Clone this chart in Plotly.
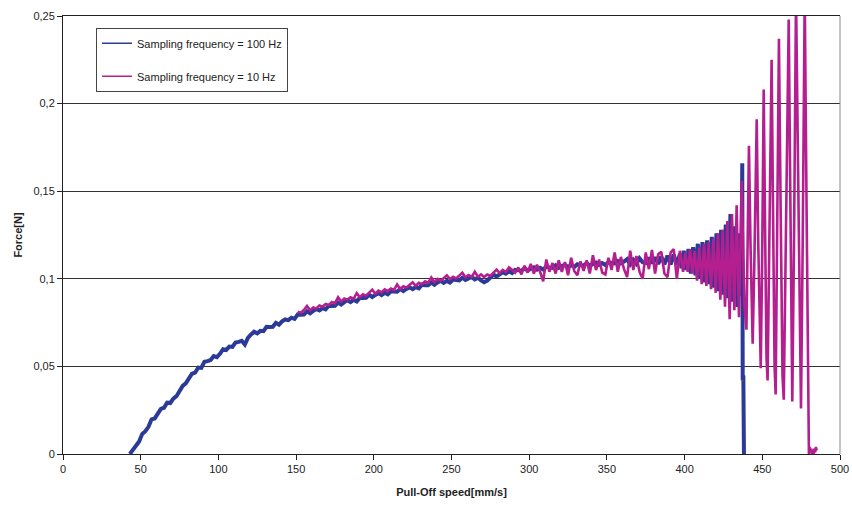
import plotly.graph_objects as go

# ---------------- data ----------------
blue_x = [
    43, 45, 47, 49, 51, 53, 55, 57, 59, 61,
    63, 65, 67, 69, 71, 73, 75, 77, 79, 81,
    83, 85, 87, 89, 91, 93, 95, 97, 99, 101,
    103, 105, 107, 109, 111, 113, 115, 117, 119, 121,
    123, 125, 127, 129, 131, 133, 135, 137, 139, 141,
    143, 145, 147, 149, 151, 153, 155, 157, 159, 161,
    163, 165, 167, 169, 171, 173, 175, 177, 179, 181,
    183, 185, 187, 189, 191, 193, 195, 197, 199, 201,
    203, 205, 207, 209, 211, 213, 215, 217, 219, 221,
    223, 225, 227, 229, 231, 233, 235, 237, 239, 241,
    243, 245, 247, 249, 251, 253, 255, 257, 259, 261,
    263, 265, 267, 269, 271, 273, 275, 277, 279, 281,
    283, 285, 287, 289, 291, 293, 295, 297, 299, 301,
    303, 305, 307, 309, 311, 313, 315, 317, 319, 321,
    323, 325, 327, 329, 331, 333, 335, 337, 339, 341,
    343, 345, 347, 349, 351, 353, 355, 357, 359, 361,
    363, 365, 367, 369, 371, 373, 375, 377, 379, 381,
    383, 385, 387, 389, 391, 393, 395, 397,
    398, 399.5, 401, 402.5, 404, 405.5, 407, 408.5, 410, 411.5,
    413, 414.5, 416, 417.5, 419, 420.5, 422, 423.5, 425, 426.5,
    428, 429.5, 431, 432.5, 434, 435.5,
    436.5, 437.1, 437.4, 437.6, 437.8, 438.2,
]
blue_y = [
    0.0000, 0.0025, 0.0055, 0.0072, 0.0115, 0.0130, 0.0155, 0.0198, 0.0203, 0.0232,
    0.0258, 0.0264, 0.0293, 0.0291, 0.0316, 0.0330, 0.0356, 0.0389, 0.0403, 0.0432,
    0.0458, 0.0464, 0.0493, 0.0491, 0.0526, 0.0530, 0.0536, 0.0559, 0.0553, 0.0572,
    0.0598, 0.0594, 0.0613, 0.0611, 0.0636, 0.0640, 0.0646, 0.0625, 0.0663, 0.0682,
    0.0698, 0.0689, 0.0703, 0.0701, 0.0726, 0.0725, 0.0726, 0.0749, 0.0738, 0.0757,
    0.0768, 0.0764, 0.0778, 0.0771, 0.0796, 0.0795, 0.0796, 0.0814, 0.0803, 0.0817,
    0.0828, 0.0819, 0.0833, 0.0826, 0.0846, 0.0845, 0.0846, 0.0864, 0.0853, 0.0867,
    0.0878, 0.0867, 0.0880, 0.0871, 0.0891, 0.0890, 0.0891, 0.0909, 0.0896, 0.0908,
    0.0918, 0.0907, 0.0920, 0.0911, 0.0929, 0.0927, 0.0926, 0.0942, 0.0930, 0.0942,
    0.0951, 0.0941, 0.0953, 0.0946, 0.0966, 0.0963, 0.0963, 0.0979, 0.0966, 0.0979,
    0.0988, 0.0977, 0.0988, 0.0979, 0.0996, 0.0993, 0.0991, 0.1006, 0.0993, 0.1002,
    0.1010, 0.0997, 0.1006, 0.0991, 0.0980, 0.0990, 0.1004, 0.1024, 0.1013, 0.1027,
    0.1038, 0.1029, 0.1043, 0.1033, 0.1051, 0.1048, 0.1046, 0.1061, 0.1047, 0.1057,
    0.1065, 0.1052, 0.1063, 0.1053, 0.1069, 0.1065, 0.1062, 0.1077, 0.1063, 0.1073,
    0.1080, 0.1067, 0.1078, 0.1067, 0.1083, 0.1078, 0.1076, 0.1090, 0.1075, 0.1085,
    0.1093, 0.1080, 0.1090, 0.1079, 0.1096, 0.1091, 0.1088, 0.1102, 0.1088, 0.1098,
    0.1112, 0.1083, 0.1108, 0.1086, 0.1117, 0.1095, 0.1090, 0.1120, 0.1088, 0.1122,
    0.1085, 0.1128, 0.1083, 0.1132, 0.1082, 0.1138, 0.1080, 0.1142,
    0.106, 0.116, 0.105, 0.117, 0.103, 0.118, 0.102, 0.120, 0.100, 0.121,
    0.098, 0.122, 0.097, 0.124, 0.095, 0.126, 0.093, 0.128, 0.091, 0.131,
    0.089, 0.137, 0.087, 0.130, 0.084, 0.126,
    0.090, 0.166, 0.042, 0.158, 0.045, 0.000,
]

mag_x = [
    151, 153, 155, 157, 159, 161, 163, 165, 167, 169,
    171, 173, 175, 177, 179, 181, 183, 185, 187, 189,
    191, 193, 195, 197, 199, 201, 203, 205, 207, 209,
    211, 213, 215, 217, 219, 221, 223, 225, 227, 229,
    231, 233, 235, 237, 239, 241, 243, 245, 247, 249,
    251, 253, 255, 257, 259, 261, 263, 265, 267, 269,
    271, 273, 275, 277, 279, 281, 283, 285, 287, 289,
    291, 293, 295, 297, 299, 301, 303, 305, 307, 309,
    311, 313, 315, 317, 319, 321, 323, 325, 327, 329,
    331, 333, 335, 337, 339, 341, 343, 345, 347, 349,
    351, 353, 355, 357, 359, 361, 363, 365, 367, 369,
    371, 373, 375, 377, 379, 381, 383, 385, 387, 389,
    391, 393, 395, 397, 399,
    400.5, 402, 403.5, 405, 406.5, 408, 409.5, 411, 412.5, 414,
    415.5, 417, 418.5, 420, 421.5, 423, 424.5, 426, 427.5, 429,
    430.5, 432, 433.5, 435,
    435.9, 436.7, 437.6, 438.5, 439.8, 440.6, 441.4, 442.4, 443.2, 443.8,
    444.8, 446.4, 447.4, 448.3, 449.0, 449.9, 450.9, 451.9, 452.7, 453.4,
    454.5, 456.0, 457.0, 457.9, 458.6, 459.5, 460.7, 461.8, 463.0, 463.8,
    465.0, 467.0, 468.0, 468.8, 469.3, 470.5, 471.7, 473.2, 474.3, 474.9,
    476.0, 477.3, 478.5, 479.3, 479.6, 480.0,
    480.5, 481, 481.5, 482, 482.5, 483, 483.5, 484, 484.5, 485,
]
mag_y = [
    0.0812, 0.0805, 0.0822, 0.0845, 0.0820, 0.0836, 0.0830, 0.0848, 0.0841, 0.0856,
    0.0850, 0.0867, 0.0860, 0.0895, 0.0870, 0.0887, 0.0880, 0.0894, 0.0886, 0.0918,
    0.0895, 0.0912, 0.0904, 0.0921, 0.0938, 0.0915, 0.0932, 0.0922, 0.0940, 0.0930,
    0.0945, 0.0936, 0.0968, 0.0942, 0.0958, 0.0950, 0.0965, 0.0980, 0.0960, 0.0977,
    0.0969, 0.0985, 0.0976, 0.1008, 0.0982, 0.0999, 0.0988, 0.1002, 0.1020, 0.0998,
    0.1012, 0.1002, 0.1017, 0.1035, 0.1009, 0.1022, 0.1011, 0.1040, 0.1012, 0.1025,
    0.1010, 0.1024, 0.1016, 0.1035, 0.1052, 0.1032, 0.1051, 0.1039, 0.1065, 0.1052,
    0.1035, 0.1065, 0.1025, 0.1075, 0.1035, 0.1085, 0.1030, 0.1080, 0.1040, 0.0985,
    0.1110, 0.1040, 0.1090, 0.1030, 0.1105, 0.1040, 0.1095, 0.1020, 0.1120, 0.1045,
    0.1020, 0.1100, 0.1045, 0.1105, 0.1030, 0.1135, 0.1050, 0.1110, 0.1035, 0.1025,
    0.1120, 0.1050, 0.1150, 0.1040, 0.1125, 0.1055, 0.1010, 0.1160, 0.1050, 0.1130,
    0.1040, 0.1000, 0.1150, 0.1055, 0.1165, 0.1030, 0.1140, 0.1155, 0.1030, 0.1010,
    0.1150, 0.1170, 0.1000, 0.1160, 0.1040,
    0.115, 0.104, 0.117, 0.103, 0.116, 0.099, 0.118, 0.097, 0.120, 0.096,
    0.121, 0.094, 0.123, 0.092, 0.126, 0.088, 0.128, 0.084, 0.133, 0.077,
    0.137, 0.082, 0.142, 0.078,
    0.115, 0.156, 0.120, 0.085, 0.071, 0.120, 0.176, 0.120, 0.075, 0.063,
    0.105, 0.191, 0.120, 0.065, 0.049, 0.110, 0.208, 0.120, 0.055, 0.042,
    0.120, 0.225, 0.130, 0.050, 0.034, 0.110, 0.237, 0.140, 0.045, 0.031,
    0.120, 0.248, 0.150, 0.045, 0.030, 0.130, 0.262, 0.150, 0.040, 0.026,
    0.120, 0.262, 0.140, 0.035, 0.027, 0.000,
    0.004, 0.001, 0.003, 0.000, 0.002, 0.000, 0.003, 0.001, 0.004, 0.002,
]

series_names = ["Sampling frequency = 100 Hz", "Sampling frequency = 10 Hz"]
x_ticks = [0, 50, 100, 150, 200, 250, 300, 350, 400, 450, 500]
y_ticks = [0, 0.05, 0.1, 0.15, 0.2, 0.25]

BLUE = "#2B3A96"
MAGENTA = "#B41E8E"
FONT = "Liberation Sans, Arial, sans-serif"

fig = go.Figure()
fig.add_trace(go.Scatter(x=blue_x, y=blue_y, mode="lines", name=series_names[0],
                         showlegend=False, line=dict(color=BLUE, width=4)))
fig.add_trace(go.Scatter(x=mag_x, y=mag_y, mode="lines", name=series_names[1],
                         showlegend=False, line=dict(color=MAGENTA, width=2.6)))
# legend entries (thin line samples, as in the reference legend)
fig.add_trace(go.Scatter(x=[None], y=[None], mode="lines", name=series_names[0],
                         legendgroup="a", line=dict(color=BLUE, width=1.5)))
fig.add_trace(go.Scatter(x=[None], y=[None], mode="lines", name=series_names[1],
                         legendgroup="b", line=dict(color=MAGENTA, width=1.5)))

fig.update_layout(
    width=852, height=505,
    margin=dict(l=63, r=12, t=16, b=51, autoexpand=False),
    paper_bgcolor="white", plot_bgcolor="white",
    separators=",.",
    font=dict(family=FONT, size=11, color="#222"),
    showlegend=True,
    legend=dict(x=0.0425, y=0.973, xanchor="left", yanchor="top",
                bgcolor="white", bordercolor="#444", borderwidth=1,
                font=dict(family=FONT, size=11, color="#222"),
                itemwidth=30, tracegroupgap=14, traceorder="grouped"),
    xaxis=dict(range=[0, 500], tickvals=x_ticks, showgrid=False, zeroline=False,
               automargin=False,
               showline=True, linecolor="#222", linewidth=1, mirror=True,
               ticks="outside", ticklen=5, tickcolor="#222",
               title=dict(text="<b>Pull-Off speed[mm/s]</b>", standoff=14,
                          font=dict(family=FONT, size=11, color="#222"))),
    yaxis=dict(range=[0, 0.25], tickvals=y_ticks, showgrid=True, gridcolor="#333",
               gridwidth=1, zeroline=False, showline=True, linecolor="#222",
               automargin=False,
               linewidth=1, ticks="outside", ticklen=5, tickcolor="#222",
               title=dict(text="<b>Force[N]</b>", standoff=8,
                          font=dict(family=FONT, size=11, color="#222"))),
    shapes=[dict(type="line", xref="paper", yref="paper", x0=1, x1=1, y0=0, y1=1,
                 line=dict(color="#888", width=1))],
)

fig.write_html("out.html")
